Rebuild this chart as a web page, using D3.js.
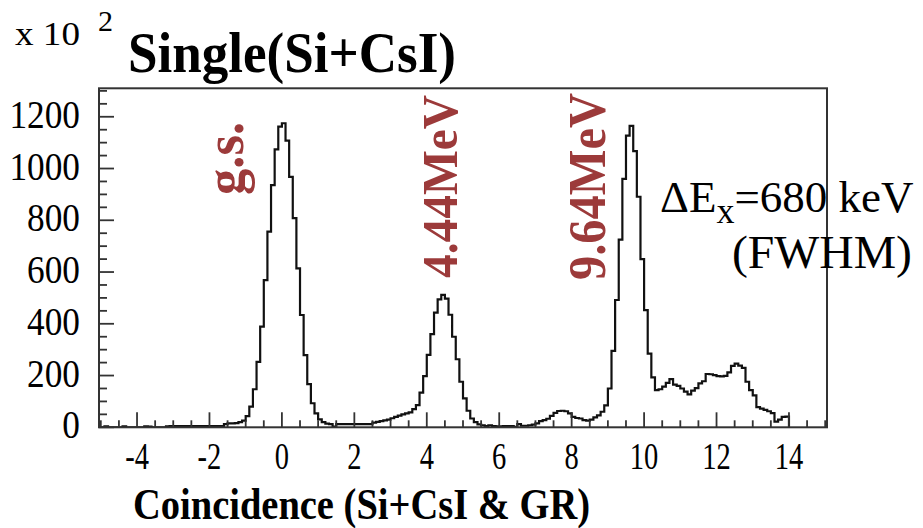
<!DOCTYPE html>
<html><head><meta charset="utf-8">
<script src="https://cdn.jsdelivr.net/npm/d3@7"></script>
<style>html,body{margin:0;padding:0;background:#fff;} svg{display:block}</style>
</head><body>
<svg id="chart" width="923" height="528"></svg>
<script>
// ---- data ----
const binStart = -5.0;   // left edge of first bin
const binWidth = 0.1;
// counts per bin, bins from -5.0 to 14.0 (left edges)
const counts = [
  0, 4, 0, 0, 0, 0, 4, 0, 0, 0,          // -5.0 .. -4.1
  0, 0, 4, 3, 0, 0, 0, 0, 4, 5,          // -4.0 .. -3.1
  5, 5, 5, 5, 5, 5, 5, 5, 5, 5,          // -3.0 .. -2.1
  5, 5, 5, 5, 12, 15, 15, 16, 20, 26,    // -2.0 .. -1.1
  43, 80, 147, 253, 389, 569, 756, 936, 1074, 1162, // -1.0 .. -0.1
  1175, 1108, 968, 808, 614, 434, 279, 167, 93, 54, // 0.0 .. 0.9
  31, 20, 14, 12, 3, 12, 12, 12, 12, 12,  // 1.0 .. 1.9
  12, 12, 12, 12, 12, 18, 21, 24, 27, 30, // 2.0 .. 2.9
  35, 40, 45, 50, 54, 58, 70, 86, 134, 198, // 3.0 .. 3.9
  280, 360, 443, 494, 512, 497, 435, 350, 263, 176, // 4.0 .. 4.9
  112, 64, 34, 20, 11, 8, 5, 8, 5, 4,     // 5.0 .. 5.9
  4, 5, 5, 5, 2, 12, 6, 6, 8, 10,         // 6.0 .. 6.9
  15, 24, 28, 33, 44, 56, 63, 64, 62, 54, // 7.0 .. 7.9
  40, 36, 34, 28, 26, 30, 38, 46, 60, 85, // 8.0 .. 8.9
  150, 295, 492, 725, 960, 1127, 1165, 1067, 891, 650, // 9.0 .. 9.9
  453, 285, 193, 144, 147, 157, 172, 186, 165, 160, // 10.0 .. 10.9
  150, 138, 127, 142, 151, 170, 178, 206, 205, 202, // 11.0 .. 11.9
  198, 197, 199, 212, 237, 246, 238, 230, 176, 144, // 12.0 .. 12.9
  123, 78, 72, 67, 62, 55, 22, 30, 40, 41  // 13.0 .. 13.9
];
const xDomain = [-5.05, 15.05];
const yDomain = [0, 1310];
const xTickLabels = [-4, -2, 0, 2, 4, 6, 8, 10, 12, 14];
const xMinorStep = 0.5;
const yTickLabels = [0, 200, 400, 600, 800, 1000, 1200];
const yMinorStep = 50;
const peakLabels = ["g.s.", "4.44MeV", "9.64MeV"];
const titleTop = "Single(Si+CsI)";
const titleBottom = "Coincidence (Si+CsI & GR)";
const scaleLabel = ["x 10", "2"];
const resLine1 = ["\u0394E", "x", "=680 keV"];
const resLine2 = "(FWHM)";

// ---- layout ----
const frame = {left: 99, right: 827, top: 88.3, bottom: 427.3};
const svg = d3.select("#chart");
const x = d3.scaleLinear().domain(xDomain).range([frame.left, frame.right]);
const y = d3.scaleLinear().domain(yDomain).range([frame.bottom, frame.top]);
const serif = "'Liberation Serif','Times New Roman',serif";
const axisColor = "#333";
const red = "#9c3a3a";

svg.append("rect").attr("width", 923).attr("height", 528).attr("fill", "#fff");

// clip
svg.append("clipPath").attr("id", "clip").append("rect")
  .attr("x", frame.left).attr("y", frame.top - 1)
  .attr("width", frame.right - frame.left).attr("height", frame.bottom - frame.top + 1);

// histogram step path
const pts = [{e: binStart, v: 0}];
counts.forEach((c, i) => pts.push({e: binStart + i * binWidth, v: c}));
pts.push({e: binStart + counts.length * binWidth, v: counts[counts.length - 1]});
pts.push({e: binStart + counts.length * binWidth, v: 0});
const line = d3.line().x(d => x(d.e)).y(d => y(d.v)).curve(d3.curveStepAfter);
svg.append("path").attr("d", line(pts)).attr("fill", "none")
  .attr("stroke", "#111").attr("stroke-width", 2.2).attr("clip-path", "url(#clip)");

// frame
svg.append("rect").attr("x", frame.left).attr("y", frame.top)
  .attr("width", frame.right - frame.left).attr("height", frame.bottom - frame.top)
  .attr("fill", "none").attr("stroke", axisColor).attr("stroke-width", 2);

// x ticks (inside, pointing up)
const xTicks = d3.range(Math.ceil(xDomain[0] / xMinorStep), Math.floor(xDomain[1] / xMinorStep) + 1).map(k => k * xMinorStep);
svg.append("g").selectAll("line").data(xTicks).join("line")
  .attr("x1", d => x(d)).attr("x2", d => x(d))
  .attr("y1", frame.bottom)
  .attr("y2", d => frame.bottom - (xTickLabels.includes(d) ? 15 : 7))
  .attr("stroke", axisColor).attr("stroke-width", 1.8);

// y ticks (inside, pointing right)
const yTicks = d3.range(0, yDomain[1] + 1, yMinorStep);
svg.append("g").selectAll("line").data(yTicks).join("line")
  .attr("y1", d => y(d)).attr("y2", d => y(d))
  .attr("x1", frame.left)
  .attr("x2", d => frame.left + (yTickLabels.includes(d) ? 15 : 8))
  .attr("stroke", axisColor).attr("stroke-width", 1.8);

function squeeze(sel, factor) {
  sel.each(function() {
    const L = this.getComputedTextLength();
    d3.select(this).attr("textLength", L * factor).attr("lengthAdjust", "spacingAndGlyphs");
  });
}

// x tick labels
svg.append("g").selectAll("text").data(xTickLabels).join("text")
  .attr("x", d => x(d)).attr("y", 469)
  .attr("text-anchor", "middle")
  .attr("font-family", serif).attr("font-size", 38).attr("fill", "#000")
  .text(d => d)
  .call(squeeze, 0.75);

// y tick labels
svg.append("g").selectAll("text").data(yTickLabels).join("text")
  .attr("x", 80).attr("y", d => y(d) + 11)
  .attr("text-anchor", "end")
  .attr("font-family", serif).attr("font-size", 41).attr("fill", "#000")
  .text(d => d)
  .call(squeeze, 0.86);

// scale factor label
svg.append("text").attr("x", 15).attr("y", 45)
  .attr("font-family", serif).attr("font-size", 34).attr("fill", "#000")
  .attr("textLength", 65).attr("lengthAdjust", "spacingAndGlyphs")
  .text(scaleLabel[0]);
svg.append("text").attr("x", 98).attr("y", 31)
  .attr("font-family", serif).attr("font-size", 30).attr("fill", "#000")
  .text(scaleLabel[1]);

// titles
svg.append("text").attr("x", 128).attr("y", 72)
  .attr("font-family", serif).attr("font-weight", "bold").attr("font-size", 58)
  .attr("textLength", 328).attr("lengthAdjust", "spacingAndGlyphs")
  .text(titleTop);
svg.append("text").attr("x", 133).attr("y", 519)
  .attr("font-family", serif).attr("font-weight", "bold").attr("font-size", 45)
  .attr("textLength", 457).attr("lengthAdjust", "spacingAndGlyphs")
  .text(titleBottom);

// peak labels (rotated)
const peakAnchor = [
  {xv: -1.07, yv: 898, size: 54, len: 73},
  {xv: 4.83, yv: 577, size: 50, len: 183},
  {xv: 8.92, yv: 569, size: 52, len: 187}
];
peakLabels.forEach((t, i) => {
  const a = peakAnchor[i];
  svg.append("text")
    .attr("transform", `translate(${x(a.xv)},${y(a.yv)}) rotate(-90)`)
    .attr("font-family", serif).attr("font-weight", "bold").attr("font-size", a.size)
    .attr("fill", red)
    .attr("textLength", a.len).attr("lengthAdjust", "spacingAndGlyphs")
    .text(t);
});

// resolution annotation
const res = svg.append("text").attr("x", 660).attr("y", 212)
  .attr("font-family", serif).attr("font-size", 45).attr("fill", "#000");
res.append("tspan").text(resLine1[0]);
res.append("tspan").attr("font-size", 36).attr("dy", 11).text(resLine1[1]);
res.append("tspan").attr("dy", -11).text(resLine1[2]);
svg.append("text").attr("x", 732).attr("y", 268)
  .attr("font-family", serif).attr("font-size", 46).attr("fill", "#000")
  .attr("textLength", 180).attr("lengthAdjust", "spacingAndGlyphs")
  .text(resLine2);
</script>
</body></html>
